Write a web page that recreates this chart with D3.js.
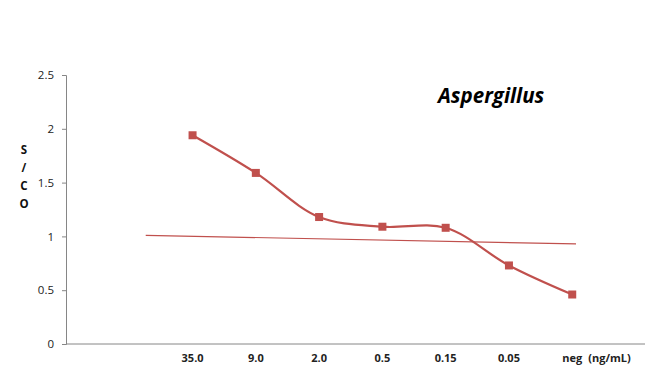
<!DOCTYPE html>
<html>
<head>
<meta charset="utf-8">
<script src="https://cdn.jsdelivr.net/npm/d3@7"></script>
<style>
    body { margin: 0; background: #fff; }
    svg text { font-family: "Open Sans", "DejaVu Sans", sans-serif; }
</style>
</head>
<body>
<div id="chart"></div>
<script>
//Chart data
var categories = ["35.0", "9.0", "2.0", "0.5", "0.15", "0.05", "neg"];
var unitLabel = "(ng/mL)";
var scoValues = [1.94, 1.59, 1.18, 1.09, 1.08, 0.73, 0.46];
var yTicks = [0, 0.5, 1, 1.5, 2, 2.5];
//cutoff line, x in category slots (first category sits in slot 2)
var cutoffX = [1.26, 8.06];
var cutoffY = [1.01, 0.93];

var width = 650, height = 382;
var lineColor = "#c0504d";

var svg = d3.select("#chart")
    .append("svg")
    .attr("width", width)
    .attr("height", height);

//x runs on slot numbers so the empty room left of the first category is kept
var x = d3.scaleLinear()
    .domain([0, 9.15])
    .range([66, 645]);

var y = d3.scaleLinear()
    .domain([0, 2.5])
    .range([344, 75]);

//y axis
var yAxis = svg.append("g")
    .attr("transform", "translate(66,0)")
    .call(d3.axisLeft(y).tickValues(yTicks).tickSize(4).tickPadding(8)
        .tickFormat(function (d) { return d; }));
yAxis.select(".domain").attr("stroke", "#868686");
yAxis.selectAll(".tick line").attr("stroke", "#868686");
yAxis.selectAll(".tick text")
    .attr("font-size", "11.5px")
    .attr("fill", "#222");

//x axis line only, labels are written under each point
svg.append("line")
    .attr("x1", x(0))
    .attr("x2", x(9.15))
    .attr("y1", y(0))
    .attr("y2", y(0))
    .attr("stroke", "#868686");

svg.selectAll(".xlabel")
    .data(categories)
    .enter()
    .append("text")
    .attr("class", "xlabel")
    .attr("x", function (d, i) { return x(i + 2); })
    .attr("y", 362)
    .attr("text-anchor", "middle")
    .attr("font-size", "11px")
    .attr("font-weight", "bold")
    .attr("fill", "#222")
    .text(function (d) { return d; });

svg.append("text")
    .attr("x", x(categories.length + 1) + 16)
    .attr("y", 362)
    .attr("text-anchor", "start")
    .attr("font-size", "11px")
    .attr("font-weight", "bold")
    .attr("fill", "#222")
    .text(unitLabel);

//y title, letters stacked
var yTitle = ["S", "/", "C", "O"];
svg.selectAll(".ytitle")
    .data(yTitle)
    .enter()
    .append("text")
    .attr("class", "ytitle")
    .attr("x", 24)
    .attr("y", function (d, i) { return 154 + i * 18; })
    .attr("text-anchor", "middle")
    .attr("font-size", "11.5px")
    .attr("font-weight", "bold")
    .attr("fill", "#111")
    .text(function (d) { return d; });

//chart title
svg.append("text")
    .attr("x", 438)
    .attr("y", 103)
    .attr("font-size", "20.5px")
    .attr("font-weight", "bold")
    .attr("font-style", "italic")
    .attr("fill", "#000")
    .text("Aspergillus");

//cutoff line
svg.append("line")
    .attr("x1", x(cutoffX[0]))
    .attr("x2", x(cutoffX[1]))
    .attr("y1", y(cutoffY[0]))
    .attr("y2", y(cutoffY[1]))
    .attr("stroke", lineColor)
    .attr("stroke-width", 1.2);

//smoothed series line
var line = d3.line()
    .x(function (d, i) { return x(i + 2); })
    .y(function (d) { return y(d); })
    .curve(d3.curveCatmullRom.alpha(0.5));

svg.append("path")
    .datum(scoValues)
    .attr("d", line)
    .attr("fill", "none")
    .attr("stroke", lineColor)
    .attr("stroke-width", 2.2);

//square markers
svg.selectAll(".marker")
    .data(scoValues)
    .enter()
    .append("rect")
    .attr("class", "marker")
    .attr("x", function (d, i) { return x(i + 2) - 4; })
    .attr("y", function (d) { return y(d) - 4; })
    .attr("width", 8)
    .attr("height", 8)
    .attr("fill", lineColor);
</script>
</body>
</html>
